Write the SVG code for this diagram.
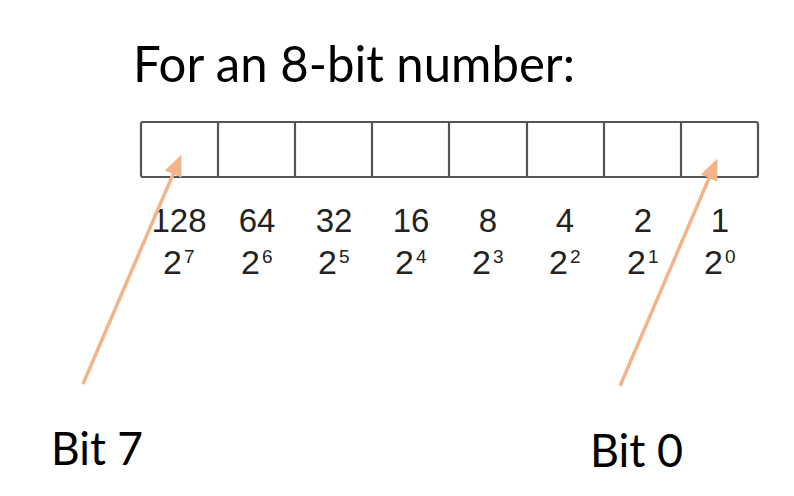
<svg xmlns="http://www.w3.org/2000/svg" width="794" height="496" viewBox="0 0 794 496">
<defs>
<style>
.title{font-family:Lato,"Open Sans","Liberation Sans",sans-serif;font-size:50px;fill:#000}
.lbl{font-family:Lato,"Open Sans","Liberation Sans",sans-serif;font-size:47px;fill:#000}
.num{font-family:"Liberation Sans",Arial,sans-serif;font-size:33px;fill:#222;text-anchor:middle}
.base{font-family:"Liberation Sans",Arial,sans-serif;font-size:34px;fill:#222}
.sup{font-family:"Liberation Sans",Arial,sans-serif;font-size:19px;fill:#222}
.cell{fill:#fff;stroke:#555;stroke-width:2.2}
.arrow{stroke:#F2B48A;stroke-width:3.5;fill:none}
</style>
<marker id="ah" markerWidth="6" markerHeight="6" refX="5" refY="3" orient="auto" markerUnits="strokeWidth" viewBox="0 0 6 6">
<path d="M0,0.4 L6,3 L0,5.6 z" fill="#F2B48A"/>
</marker>
</defs>
<rect width="794" height="496" fill="#fff"/>
<text class="title" x="133" y="82" textLength="442" lengthAdjust="spacingAndGlyphs">For an 8-bit number:</text>
<g id="register">
<rect class="cell" x="141" y="122" width="617" height="55" rx="2"/>
<line class="cell" x1="218" y1="122" x2="218" y2="177"/>
<line class="cell" x1="295" y1="122" x2="295" y2="177"/>
<line class="cell" x1="372" y1="122" x2="372" y2="177"/>
<line class="cell" x1="449" y1="122" x2="449" y2="177"/>
<line class="cell" x1="527" y1="122" x2="527" y2="177"/>
<line class="cell" x1="604" y1="122" x2="604" y2="177"/>
<line class="cell" x1="681" y1="122" x2="681" y2="177"/>
</g>
<g id="values">
<text class="num" x="179" y="232">128</text>
<text class="num" x="257" y="232">64</text>
<text class="num" x="334" y="232">32</text>
<text class="num" x="411" y="232">16</text>
<text class="num" x="488" y="232">8</text>
<text class="num" x="565" y="232">4</text>
<text class="num" x="643" y="232">2</text>
<text class="num" x="720" y="232">1</text>
</g>
<g id="powers">
<text class="base" x="163" y="274">2</text><text class="sup" x="184" y="263">7</text>
<text class="base" x="241" y="274">2</text><text class="sup" x="262" y="263">6</text>
<text class="base" x="318" y="274">2</text><text class="sup" x="339" y="263">5</text>
<text class="base" x="395" y="274">2</text><text class="sup" x="416" y="263">4</text>
<text class="base" x="472" y="274">2</text><text class="sup" x="493" y="263">3</text>
<text class="base" x="549" y="274">2</text><text class="sup" x="570" y="263">2</text>
<text class="base" x="627" y="274">2</text><text class="sup" x="648" y="263">1</text>
<text class="base" x="704" y="274">2</text><text class="sup" x="725" y="263">0</text>
</g>
<g id="connectors">
<line class="arrow" x1="83" y1="384" x2="180" y2="158" marker-end="url(#ah)"/>
<line class="arrow" x1="620" y1="386" x2="716" y2="162" marker-end="url(#ah)"/>
</g>
<g id="bit7"><text class="lbl" x="51" y="465" textLength="92" lengthAdjust="spacingAndGlyphs">Bit 7</text></g>
<g id="bit0"><text class="lbl" x="590" y="467" textLength="93" lengthAdjust="spacingAndGlyphs">Bit 0</text></g>
</svg>
